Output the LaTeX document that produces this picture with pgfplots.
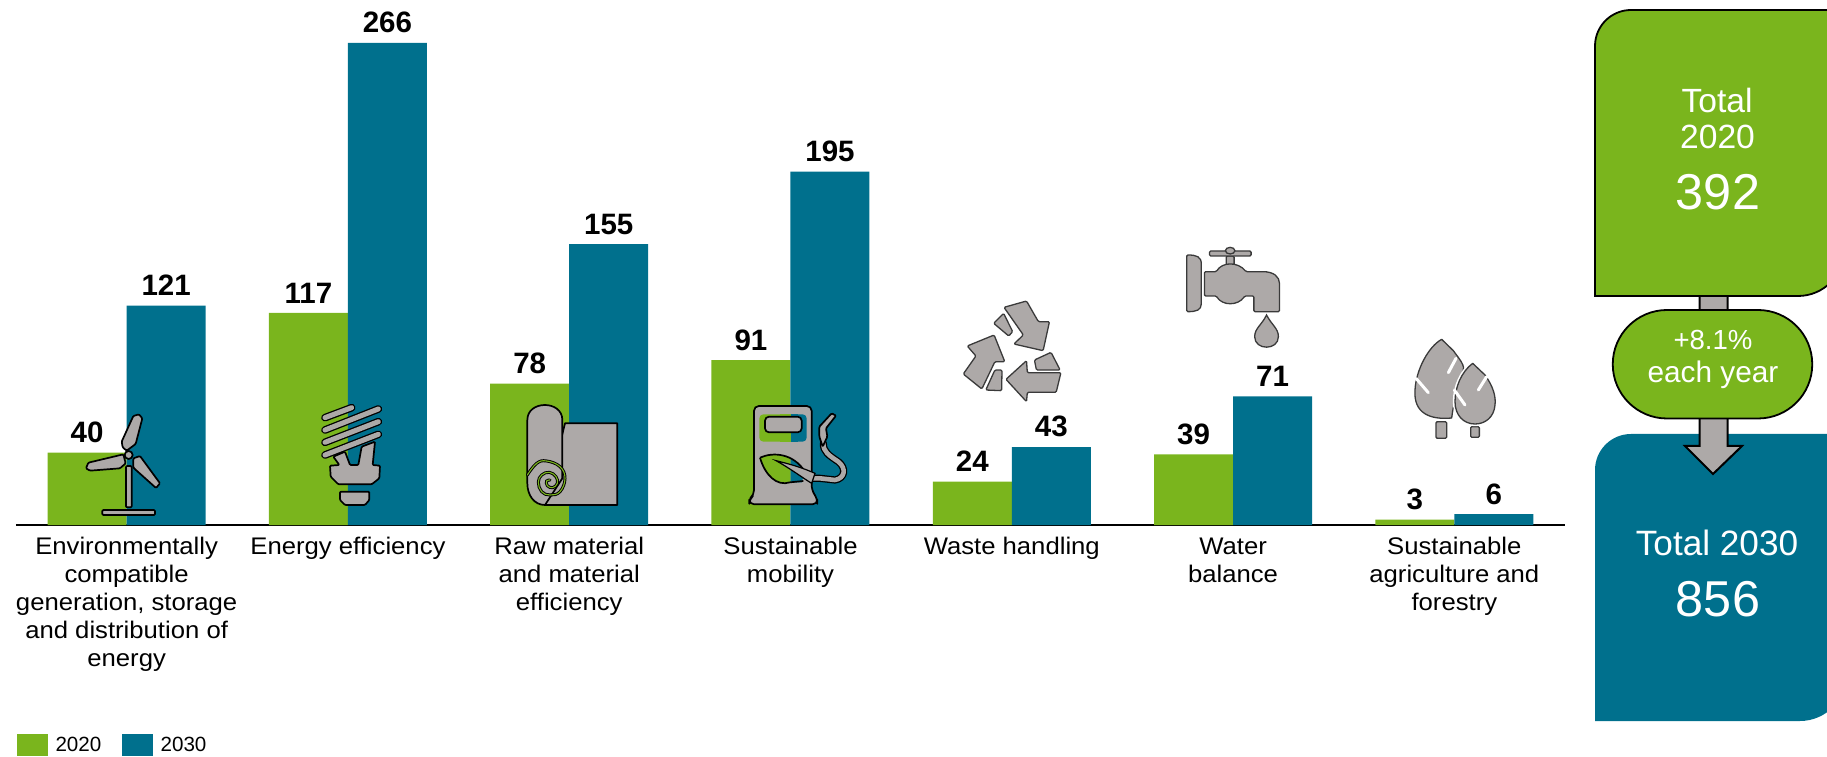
\documentclass[border=0pt]{standalone}
\usepackage{fontspec}
\setmainfont{Liberation Sans}
\newfontfamily\lblfont[FakeStretch=1.07]{Liberation Sans}
\usepackage{pgfplots}
\pgfplotsset{compat=1.18}
\definecolor{cg}{HTML}{7AB51D}
\definecolor{cb}{HTML}{00708D}
\definecolor{ic}{HTML}{ADA9A8}
\definecolor{ol}{HTML}{3A3A3A}
\newcommand\fl{\rule{0pt}{10pt}}
\tikzset{ico/.style={fill=ic,draw=black,line width=0.85pt,line join=round,rounded corners=0.5pt},
  icw/.style={fill=ic,draw=ol,line width=0.65pt,line join=round,rounded corners=0.6pt},
  crop/.style args={#1/#2}{shift={(#1*0.5pt,378pt-#2*0.5pt)},x=0.16667pt,y=-0.16667pt}}
\newcommand\capsule[2]{\draw[black,line width=3.8pt,line cap=round] #1 -- #2;\draw[ic,line width=2.5pt,line cap=round] #1 -- #2;}
\begin{document}
\begin{tikzpicture}
\path[use as bounding box] (0,0) rectangle (913.5pt,378pt);
\begin{axis}[
  at={(8pt,115.5pt)},anchor=south west,
  scale only axis,width=774.5pt,height=262.5pt,
  xmin=-0.5,xmax=6.5,ymin=0,ymax=289.7,
  clip=false,
  axis x line=bottom,axis y line=none,
  x axis line style={-,line width=1pt,black},
  xtick=data,
  xticklabels={{\fl Environmentally\\compatible\\generation, storage\\and distribution of\\energy},
    {\fl Energy efficiency},
    {\fl Raw material\\and material\\efficiency},
    {\fl Sustainable\\mobility},
    {\fl Waste handling},
    {\fl Water\\balance},
    {\fl Sustainable\\agriculture and\\forestry}},
  major tick length=0pt,
  x tick label style={font=\lblfont\fontsize{12}{14}\selectfont,align=center,anchor=north,inner sep=0pt,yshift=-4.6pt},
  /pgf/number format/assume math mode=true,
  nodes near coords,
  every node near coord/.append style={font=\fontsize{14.75}{16}\selectfont\bfseries,anchor=south,inner sep=0pt,yshift=4.7pt},
  ybar,bar width=39.5pt,
  legend style={at={(0,0)},anchor=south west,xshift=0.5pt,yshift=-116.5pt,draw=none,fill=none,inner sep=0pt,outer sep=0pt,
    legend columns=2,font=\fontsize{10.3}{11}\selectfont,/tikz/every even column/.style={column sep=8.4pt},/tikz/every odd column/.style={column sep=1.75pt}},
  legend cell align=left,
  legend image code/.code={\fill[#1] (0,-5.5pt) rectangle (15.5pt,5.5pt);},
]
\addplot[fill=cg,draw=none,bar shift=-19.75pt] coordinates {(0,40) (1,117) (2,78) (3,91) (4,24) (5,39) (6,3)};
\addplot[fill=cb,draw=none,bar shift=19.75pt] coordinates {(0,121) (1,266) (2,155) (3,195) (4,43) (5,71) (6,6)};
\legend{2020,2030}
\end{axis}
% --- right panel, coordinates in full-size pixels, y down
\begin{scope}[x=0.5pt,y=-0.5pt,shift={(0,378pt)}]
\clip (0,0) rectangle (1827,756);
\fill[cb] (1595,470) arc[start angle=180,end angle=270,radius=36] -- (1846,434) -- (1846,675) arc[start angle=0,end angle=90,radius=46] -- (1595,721) -- cycle;
\draw[fill=ic,draw=black,line width=1pt,line join=miter] (1699.5,290) -- (1699.5,446) -- (1685,446) -- (1713,474) -- (1742,446) -- (1727.5,446) -- (1727.5,290) -- cycle;
\draw[fill=cg,draw=black,line width=0.9pt] (1595,296) -- (1595,46) arc[start angle=180,end angle=270,radius=36] -- (1844,10) -- (1844,250) arc[start angle=0,end angle=90,radius=46] -- cycle;
\draw[fill=cg,draw=black,line width=0.9pt] (1667,310) -- (1758,310) arc[start angle=-90,end angle=90,radius=54.25] -- (1667,418.5) arc[start angle=90,end angle=270,radius=54.25] -- cycle;
\tikzset{pt/.style={text=white,anchor=base,inner sep=0pt}}
\node[pt,font=\fontsize{16.8}{18}\selectfont] at (1717,113) {Total};
\node[pt,font=\fontsize{16.8}{18}\selectfont] at (1717.5,149) {2020};
\node[pt,font=\fontsize{25.2}{28}\selectfont] at (1718,210) {392};
\node[pt,font=\fontsize{13.8}{16}\selectfont] at (1713,349.5) {+8.1\%};
\node[pt,font=\fontsize{14.9}{16}\selectfont] at (1713,383) {each year};
\node[pt,font=\fontsize{17.6}{18}\selectfont] at (1717,556) {Total 2030};
\node[pt,font=\fontsize{25.2}{28}\selectfont] at (1718,616) {856};
\end{scope}
% --- turbine
\begin{scope}[crop=70/400]
\path[ico] (168,198) rectangle (185,322);
\path[ico] (97,330) rectangle (255,345);
\path[ico] (155,125) -- (190,48) -- (207,43) -- (217,55) -- (197,132) -- (170,152) -- (158,142) -- cycle;
\path[ico] (160,163) -- (55,188) -- (48,205) -- (60,212) -- (150,205) -- (167,190) -- cycle;
\path[ico] (190,175) -- (210,168) -- (270,250) -- (258,264) -- (190,203) -- cycle;
\draw[fill=ic,draw=black,line width=0.85pt] (176,165) circle [radius=12];
\end{scope}
% --- bulb
\begin{scope}[crop=300/395]
\path[ico] (100,185) -- (135,170) -- (150,210) -- (175,210) -- (185,155) -- (225,140) -- (218,210) -- (240,212) -- (238,250) -- (215,268) -- (115,268) -- (92,245) -- (90,212) -- (118,210) -- cycle;
\capsule{(75,68)}{(155,38)}
\capsule{(75,105)}{(235,42)}
\capsule{(75,142)}{(235,80)}
\capsule{(75,180)}{(235,118)}
\path[ico] (120,290) -- (208,290) -- (208,315) -- (195,330) -- (135,330) -- (120,315) -- cycle;
\end{scope}
% --- scroll
\begin{scope}[crop=510/395]
\path[ico,rounded corners=0pt] (165,85) -- (322,85) -- (322,330) -- (105,330) -- cycle;
\draw[fill=ic,draw=black,line width=0.85pt,line join=round] (52,75) .. controls (52,15) and (157,15) .. (157,75) -- (157,250) -- (105,330) .. controls (72,330) and (52,300) .. (52,265) -- cycle;
\draw[black,line width=1.5pt,line cap=round] plot[smooth,tension=0.7] coordinates {(52,240) (80,205) (110,198) (150,215) (165,250) (150,290) (120,300) (95,290) (85,262) (95,240) (118,232) (138,245) (142,265) (128,278) (112,272) (110,258) (120,255)};
\draw[cg,line width=0.55pt,line cap=round] plot[smooth,tension=0.7] coordinates {(52,240) (80,205) (110,198) (150,215) (165,250) (150,290) (120,300) (95,290) (85,262) (95,240) (118,232) (138,245) (142,265) (128,278) (112,272) (110,258) (120,255)};
\end{scope}
% --- pump
\begin{scope}[crop=740/395]
\draw[black,line width=3.6pt,line join=round,line cap=round] (250,145) .. controls (250,170) and (265,180) .. (295,200) .. controls (320,220) and (315,250) .. (285,255) -- (240,250) -- (205,250);
\draw[ic,line width=2.3pt,line join=round,line cap=round] (250,145) .. controls (250,170) and (265,180) .. (295,200) .. controls (320,220) and (315,250) .. (285,255) -- (240,250) -- (205,250);
\path[ico] (275,55) -- (288,62) -- (258,100) -- (262,125) -- (248,155) -- (238,125) -- (238,95) -- cycle;
\path[ico,rounded corners=2.4pt] (28,328) -- (28,312) -- (42,300) -- (42,33) -- (215,33) -- (215,285) -- (232,312) -- (232,328) -- cycle;
\fill[cg,rounded corners=2pt] (58,58) -- (152,58) -- (152,140) -- (58,140) -- cycle;
\fill[cb,rounded corners=2pt] (152,58) -- (200,58) -- (200,140) -- (152,140) -- cycle;
\fill[cg] (152,58) rectangle (120,140);
\fill[cb] (152,58) rectangle (175,140);
\draw[fill=ic,draw=black,line width=0.85pt,rounded corners=2pt] (75,65) rectangle (185,112);
\begin{scope}
\clip (0,0) rectangle (152,360);
\fill[cg] (60,188) .. controls (100,170) and (160,175) .. (195,230) -- (150,262) .. controls (110,275) and (75,240) .. (60,188) -- cycle;
\end{scope}
\begin{scope}
\clip (152,0) rectangle (360,360);
\fill[cb] (60,188) .. controls (100,170) and (160,175) .. (195,230) -- (185,262) -- (150,262) .. controls (110,275) and (75,240) .. (60,188) -- cycle;
\end{scope}
\draw[black,line width=0.85pt] (60,188) .. controls (100,170) and (160,175) .. (195,230);
\draw[black,line width=0.85pt] (60,188) .. controls (75,240) and (110,275) .. (150,262) -- (190,258);
\fill[ic,draw=black,line width=0.6pt] (108,197) .. controls (140,205) and (180,215) .. (225,235) -- (215,265) .. controls (190,250) and (150,220) .. (108,197) -- cycle;
\end{scope}
% --- recycle and tap, from the stretched zoom (900,220)
\begin{scope}[shift={(450pt,268pt)},x=0.19770pt,y=-0.16667pt]
\path[icw] (263,262) -- (320,243) -- (350,305) -- (378,305) -- (362,392) -- (288,372) -- (312,345) -- cycle;
\path[icw] (237,310) -- (262,280) -- (285,335) -- (275,348) -- cycle;
\path[icw] (170,378) -- (238,345) -- (265,425) -- (240,425) -- (207,507) -- (160,462) -- (192,408) -- cycle;
\path[icw] (217,510) -- (240,450) -- (258,450) -- (257,512) -- cycle;
\path[icw] (268,478) -- (320,422) -- (322,458) -- (407,458) -- (395,517) -- (322,517) -- (320,545) -- cycle;
\path[icw] (340,420) -- (382,397) -- (405,450) -- (345,450) -- cycle;
\path[icw] (725,105) .. controls (750,105) and (762,110) .. (762,135) -- (762,248) .. controls (762,270) and (750,275) .. (725,275) -- cycle;
\path[icw] (825,108) -- (845,108) -- (845,135) -- (825,135) -- cycle;
\path[icw] (783,93) rectangle (888,108);
\draw[fill=ic,draw=ol,line width=0.65pt] (835,92) ellipse [x radius=12,y radius=10];
\path[icw] (770,155) -- (800,155) .. controls (815,125) and (855,125) .. (875,155) -- (915,155) .. controls (945,155) and (960,170) .. (960,195) -- (960,275) -- (895,275) -- (895,228) -- (872,228) .. controls (855,258) and (815,258) .. (800,228) -- (770,228) -- cycle;
\draw[fill=ic,draw=ol,line width=0.65pt] (927,285) .. controls (940,315) and (957,325) .. (957,350) .. controls (957,392) and (897,392) .. (897,350) .. controls (897,325) and (915,315) .. (927,285) -- cycle;
\end{scope}
% --- trees
\begin{scope}[crop=1400/330]
\path[icw] (108,275) rectangle (140,325);
\path[icw] (212,290) rectangle (238,322);
\draw[fill=ic,draw=ol,line width=0.65pt,line join=round] (125,28) -- (160,62) .. controls (180,90) and (195,105) .. (190,125) .. controls (175,170) and (160,220) .. (155,264) .. controls (90,270) and (40,250) .. (45,180) .. controls (48,120) and (85,50) .. (125,28) -- cycle;
\draw[white,line width=1.5pt,line cap=round] (145,128) -- (168,85);
\draw[white,line width=1.5pt,line cap=round] (85,188) -- (48,145);
\draw[fill=ic,draw=white,line width=2.2pt,line join=round] (218,100) -- (255,135) .. controls (280,170) and (288,200) .. (285,225) .. controls (282,262) and (255,282) .. (225,282) .. controls (190,282) and (165,255) .. (165,215) .. controls (165,170) and (185,125) .. (218,100) -- cycle;
\draw[fill=ic,draw=ol,line width=0.65pt,line join=round] (218,100) -- (255,135) .. controls (280,170) and (288,200) .. (285,225) .. controls (282,262) and (255,282) .. (225,282) .. controls (190,282) and (165,255) .. (165,215) .. controls (165,170) and (185,125) .. (218,100) -- cycle;
\draw[white,line width=1.5pt,line cap=round] (235,180) -- (260,140);
\draw[white,line width=1.5pt,line cap=round] (195,225) -- (163,180);
\end{scope}
\end{tikzpicture}
\end{document}
